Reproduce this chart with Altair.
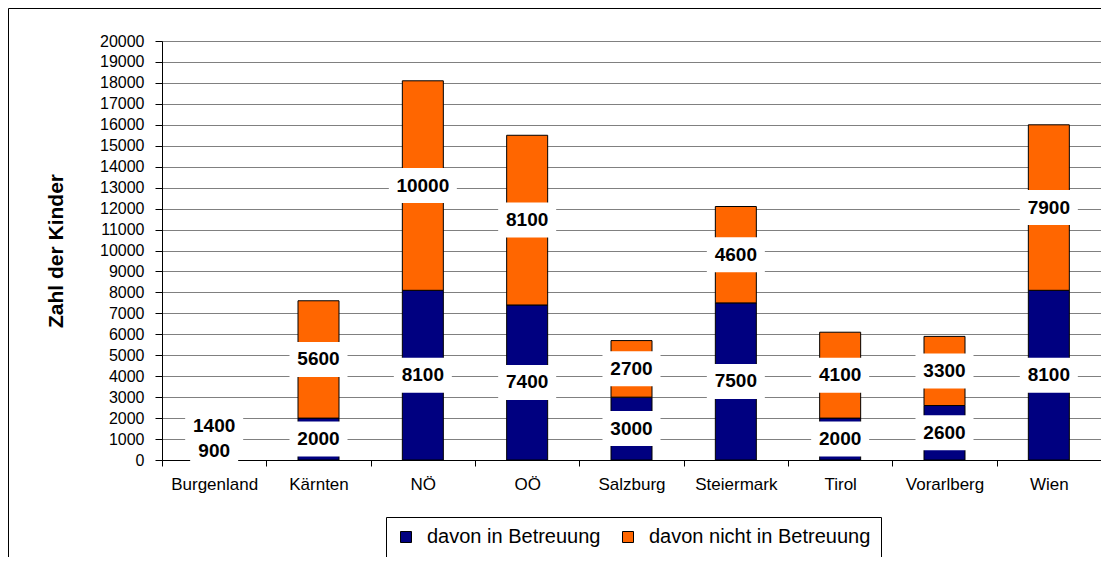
import altair as alt
import pandas as pd

regions = ["Burgenland", "Kärnten", "NÖ", "OÖ", "Salzburg", "Steiermark", "Tirol", "Vorarlberg", "Wien"]
in_betreuung = [900, 2000, 8100, 7400, 3000, 7500, 2000, 2600, 8100]
nicht_betreuung = [1400, 5600, 10000, 8100, 2700, 4600, 4100, 3300, 7900]
series_names = ["davon in Betreuung", "davon nicht in Betreuung"]
series_colors = ["#000080", "#FF6600"]
y_ticks = list(range(0, 20001, 1000))

rows = []
for r, a, b in zip(regions, in_betreuung, nicht_betreuung):
    rows.append({"region": r, "series": series_names[0], "order": 0, "value": a,
                 "start": 0, "end": a, "mid": a / 2, "label": str(a)})
    rows.append({"region": r, "series": series_names[1], "order": 1, "value": b,
                 "start": a, "end": a + b, "mid": a + b / 2, "label": str(b)})
df = pd.DataFrame(rows)
df["boxw"] = df["label"].str.len() * 10 + 18

FONT = "Liberation Sans"

x_enc = alt.X(
    "region:N", sort=regions,
    scale=alt.Scale(paddingInner=0, paddingOuter=0),
    axis=alt.Axis(title=None, labelAngle=0, labelFont=FONT, labelFontSize=17,
                  labelColor="black", tickBand="extent", tickSize=6,
                  tickColor="black", domainColor="black", labelPadding=10),
)

y_scale = alt.Scale(domain=[0, 20000], nice=False)
y_axis = alt.Axis(title="Zahl der Kinder", values=y_ticks, format="d",
                  labelOverlap=False, labelFont=FONT,
                  labelFontSize=16, labelColor="black", tickSize=7,
                  tickColor="black", domainColor="black", labelPadding=11,
                  grid=True, gridColor="#808080", gridWidth=1,
                  titleFont=FONT, titleFontSize=21, titleFontWeight="bold",
                  titleColor="black", titlePadding=33)

base = alt.Chart(df)

bars = base.mark_bar(width=41, stroke="black", strokeWidth=1).encode(
    x=x_enc,
    y=alt.Y("start:Q", scale=y_scale, axis=y_axis),
    y2="end:Q",
    color=alt.Color("series:N", sort=series_names,
                    scale=alt.Scale(domain=series_names, range=series_colors),
                    legend=alt.Legend(title=None, orient="none", legendX=224, legendY=476,
                                      direction="horizontal", symbolType="square",
                                      symbolSize=121, symbolStrokeColor="black",
                                      symbolStrokeWidth=1, labelFont=FONT,
                                      labelFontSize=20, labelColor="black",
                                      labelLimit=0, labelOffset=11, columnPadding=17,
                                      strokeColor="black", fillColor="white",
                                      padding=10)),
    order=alt.Order("order:Q"),
)

boxes = base.mark_tick(thickness=35, color="white", opacity=1).encode(
    x=x_enc,
    y=alt.Y("mid:Q", scale=y_scale, axis=y_axis),
    size=alt.Size("boxw:Q", scale=None, legend=None),
)

labels = base.mark_text(font=FONT, fontSize=19, fontWeight="bold", color="black",
                        baseline="middle", align="center").encode(
    x=x_enc,
    y=alt.Y("mid:Q", scale=y_scale, axis=y_axis),
    text="label:N",
)

one = alt.Chart(pd.DataFrame({"a": [0]}))
frame_left = one.mark_rule(color="black", strokeWidth=1).encode(
    x=alt.value(-153.5), y=alt.value(-32.5), y2=alt.value(600))
frame_top = one.mark_rule(color="black", strokeWidth=1).encode(
    x=alt.value(-153.5), x2=alt.value(1000), y=alt.value(-32.5))

chart = alt.layer(bars, boxes, labels, frame_left, frame_top).properties(
    width=939, height=419,
    autosize=alt.AutoSizeParams(type="none"),
    padding={"left": 154, "top": 33, "right": 0, "bottom": 97},
    background="white",
).configure_view(stroke="#808080", strokeWidth=1)

chart.save("out.html", embed_options={"renderer": "svg", "actions": False})
